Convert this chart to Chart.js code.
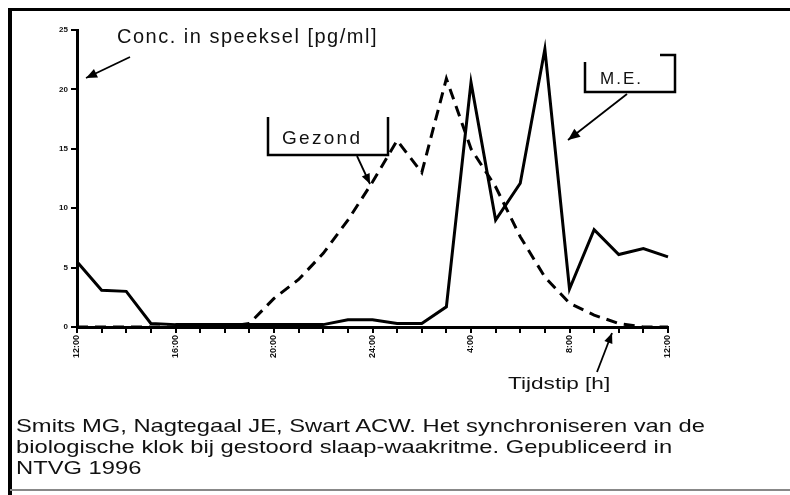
<!DOCTYPE html>
<html>
<head>
<meta charset="utf-8">
<script src="https://cdn.jsdelivr.net/npm/chart.js@4.4.1/dist/chart.umd.min.js"></script>
<style>
html, body { margin: 0; padding: 0; background: #fff; }
#wrap { position: relative; width: 790px; height: 495px; overflow: hidden;
        font-family: "Liberation Sans", Arial, sans-serif; color: #111; }
#grafiek { position: absolute; left: 0; top: 0; }
.lbl { position: absolute; white-space: nowrap; line-height: 1; transform-origin: 0 0; }
</style>
</head>
<body>
<div id="wrap">
  <canvas id="grafiek" width="790" height="495"></canvas>
  <div class="lbl" style="left:117px;top:26px;font-size:20px;letter-spacing:1.5px;">Conc. in speeksel [pg/ml]</div>
  <div class="lbl" style="left:282px;top:128px;font-size:19px;letter-spacing:2.3px;">Gezond</div>
  <div class="lbl" style="left:600px;top:70px;font-size:17px;letter-spacing:2px;">M.E.</div>
  <div class="lbl" style="left:508px;top:375px;font-size:17px;transform:scaleX(1.33);">Tijdstip [h]</div>
  <div class="lbl" style="left:16px;top:415px;font-size:19px;line-height:21px;transform:scaleX(1.25);">Smits MG, Nagtegaal JE, Swart ACW. Het synchroniseren van de<br>biologische klok bij gestoord slaap-waakritme. Gepubliceerd in<br>NTVG 1996</div>
</div>
<script>
// tijdstippen, ieder uur van 12:00 tot 12:00 de volgende dag
const tijdstippen = ['12:00', '13:00', '14:00', '15:00', '16:00', '17:00', '18:00', '19:00',
    '20:00', '21:00', '22:00', '23:00', '24:00', '1:00', '2:00', '3:00',
    '4:00', '5:00', '6:00', '7:00', '8:00', '9:00', '10:00', '11:00', '12:00'];
const asLabels = ['12:00', '16:00', '20:00', '24:00', '4:00', '8:00', '12:00'];

// melatonine in speeksel [pg/ml]
const gezond = [0, 0, 0, 0, 0, 0, 0, 0.3, 2.4, 4.0, 6.2, 9.0, 12.2, 15.7, 13.0, 20.9,
    15.0, 11.8, 7.6, 4.2, 2.0, 1.0, 0.3, 0, 0];
const me = [5.5, 3.1, 3.0, 0.3, 0.2, 0.2, 0.2, 0.2, 0.2, 0.2, 0.2, 0.6, 0.6, 0.3, 0.3, 1.7,
    20.6, 9.0, 12.1, 23.4, 3.2, 8.2, 6.1, 6.6, 5.9];

function pijl(ctx, x1, y1, x2, y2, kop) {
    ctx.beginPath();
    ctx.moveTo(x1, y1);
    ctx.lineTo(x2, y2);
    ctx.stroke();
    const a = Math.atan2(y2 - y1, x2 - x1);
    ctx.beginPath();
    ctx.moveTo(x2, y2);
    ctx.lineTo(x2 - kop * Math.cos(a - 0.4), y2 - kop * Math.sin(a - 0.4));
    ctx.lineTo(x2 - kop * Math.cos(a + 0.4), y2 - kop * Math.sin(a + 0.4));
    ctx.closePath();
    ctx.fill();
}

const versiering = {
    id: 'versiering',
    afterDraw(chart) {
        const ctx = chart.ctx;
        ctx.save();
        ctx.fillStyle = '#000';
        ctx.strokeStyle = '#000';
        // kader
        ctx.fillRect(8, 8, 782, 3);
        ctx.fillRect(8, 8, 4, 487);
        ctx.fillStyle = '#888';
        ctx.fillRect(10, 489, 780, 2);
        ctx.fillStyle = '#000';

        ctx.lineWidth = 2.5;
        // Gezond kader
        ctx.beginPath();
        ctx.moveTo(268, 117); ctx.lineTo(268, 155); ctx.lineTo(388, 155); ctx.lineTo(388, 117);
        ctx.stroke();
        // M.E. kader
        ctx.beginPath();
        ctx.moveTo(585, 62); ctx.lineTo(585, 92); ctx.lineTo(675, 92); ctx.lineTo(675, 55); ctx.lineTo(660, 55);
        ctx.stroke();

        ctx.lineWidth = 1.8;
        pijl(ctx, 130, 57, 86, 78, 12);
        pijl(ctx, 357, 156, 370, 184, 11);
        pijl(ctx, 627, 94, 568, 140, 13);
        pijl(ctx, 597, 372, 612, 333, 11);
        ctx.restore();
    }
};

new Chart(document.getElementById('grafiek'), {
    type: 'line',
    data: {
        labels: tijdstippen,
        datasets: [{
            label: 'Gezond',
            data: gezond,
            borderColor: '#000',
            borderWidth: 3,
            borderDash: [11, 7],
            pointRadius: 0,
            tension: 0
        }, {
            label: 'M.E.',
            data: me,
            borderColor: '#000',
            borderWidth: 3,
            pointRadius: 0,
            tension: 0
        }]
    },
    options: {
        responsive: false,
        animation: false,
        layout: { padding: { left: 0, top: 30, right: 122, bottom: 128 } },
        plugins: {
            legend: { display: false },
            tooltip: { enabled: false }
        },
        scales: {
            x: {
                afterFit: s => { s.height = 40; },
                grid: { drawOnChartArea: false, drawTicks: true, tickLength: 6, color: '#000', lineWidth: 2 },
                border: { display: true, color: '#000', width: 3 },
                ticks: {
                    autoSkip: false,
                    minRotation: 90,
                    maxRotation: 90,
                    padding: 2,
                    color: '#111',
                    font: { size: 9, weight: 'bold', family: '"Liberation Sans", Arial' },
                    callback: (v, i) => i % 4 === 0 ? asLabels[i / 4] : ''
                }
            },
            y: {
                min: 0,
                max: 25,
                afterFit: s => { s.width = 77; },
                grid: { drawOnChartArea: false, drawTicks: true, tickLength: 6, color: '#000', lineWidth: 2 },
                border: { display: true, color: '#000', width: 3 },
                ticks: {
                    stepSize: 5,
                    padding: 3,
                    color: '#111',
                    font: { size: 8, weight: 'bold', family: '"Liberation Sans", Arial' }
                }
            }
        }
    },
    plugins: [versiering]
});
</script>
</body>
</html>
